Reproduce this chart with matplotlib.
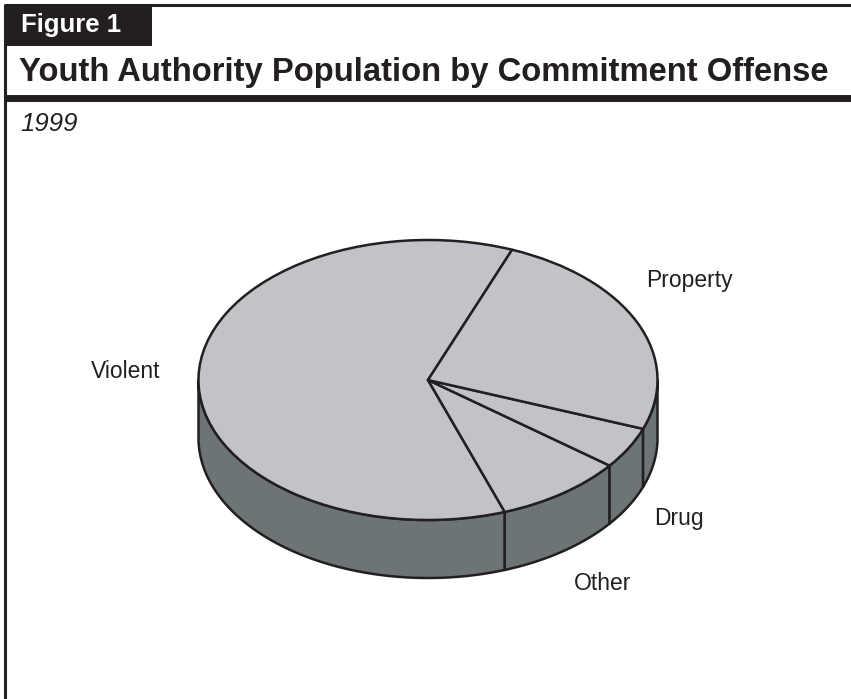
import numpy as np
import matplotlib.pyplot as plt
from matplotlib.patches import Wedge, Polygon, Rectangle
from matplotlib.transforms import Affine2D

plt.rcParams['font.family'] = ['Liberation Sans', 'DejaVu Sans']

offenses = ['Violent', 'Other', 'Drug', 'Property']
shares = [61.4, 9.1, 4.8, 24.7]
start_angle = 68.5
label_pos = [(126, 371), (603, 584), (679, 519), (689, 281)]

ink = '#231f20'
top_col = '#c1c3c9'
side_col = '#6c7476'

fig = plt.figure(figsize=(8.51, 6.99), dpi=100)
ax = fig.add_axes([0, 0, 1, 1])
ax.set_xlim(0, 851)
ax.set_ylim(699, 0)
ax.axis('off')

# frame + header
ax.plot([5, 5], [4, 699], color=ink, lw=2.2, solid_capstyle='butt')
ax.plot([5, 851], [4.5, 4.5], color=ink, lw=2.2, solid_capstyle='butt')
ax.add_patch(Rectangle((5, 4), 147, 42, color=ink, lw=0))
ax.plot([5, 851], [98, 98], color=ink, lw=5, solid_capstyle='butt')
ax.text(21, 25, 'Figure 1', color='white', fontsize=18.5, fontweight='bold', va='center')
ax.text(19, 72, 'Youth Authority Population by Commitment Offense', color=ink,
        fontsize=23.6, fontweight='bold', va='center')
ax.text(20, 124, '1999', color=ink, fontsize=18.5, style='italic', va='center')

# 3d pie
cx, cy, a, b, depth = 428, 380, 229.5, 140, 58
tr = Affine2D().scale(a, -b).translate(cx, cy) + ax.transData

def pt(t, dy=0):
    r = np.radians(t)
    return cx + a * np.cos(r), cy - b * np.sin(r) + dy

angles = start_angle + np.concatenate([[0], np.cumsum(shares)]) * 360 / sum(shares)

# side walls (only the front half shows)
for i in range(len(shares)):
    t0, t1 = angles[i], angles[i + 1]
    for k in (0, 360):
        lo, hi = max(t0, 180 + k), min(t1, 360 + k)
        if hi <= lo:
            continue
        ts = np.linspace(lo, hi, 80)
        top = [pt(t) for t in ts]
        bot = [pt(t, depth) for t in ts[::-1]]
        ax.add_patch(Polygon(top + bot, closed=True, fc=side_col, ec=ink, lw=1.8, joinstyle='round'))

# top face
for i in range(len(shares)):
    ax.add_patch(Wedge((0, 0), 1, angles[i], angles[i + 1], transform=tr,
                       fc=top_col, ec=ink, lw=1.8, joinstyle='round'))

for name, (x, y) in zip(offenses, label_pos):
    ax.text(x, y, name, fontsize=16.5, color=ink, ha='center', va='center')

fig.savefig('out.png', dpi=100, facecolor='white')
